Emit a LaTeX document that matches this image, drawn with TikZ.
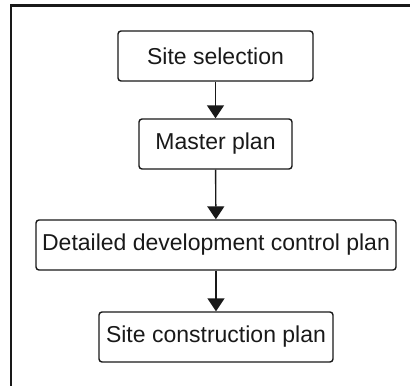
\documentclass[tikz,border=0pt]{standalone}
\usepackage{fontspec}
\setmainfont{Liberation Sans}
\usetikzlibrary{arrows.meta}
\begin{document}
\begin{tikzpicture}[x=1pt,y=-1pt,
  stepbox/.style={draw=black!90,line width=1.4pt,rounded corners=3pt,inner sep=0pt,
    font=\fontsize{23}{27}\selectfont,text=black!90},
  flow/.style={line width=1.4pt,draw=black!90,-{Triangle[width=17pt,length=13pt]}}]
\useasboundingbox (0,0) rectangle (410,386);
\draw[line width=2.4pt,black!90] (410,5.5) -- (11,5.5) -- (11,386);
\node[stepbox,minimum width=195pt,minimum height=50pt] (a) at (215.5,56) {Site selection};
\node[stepbox,minimum width=153pt,minimum height=50pt] (b) at (215.5,144) {Master plan};
\node[stepbox,minimum width=360pt,minimum height=50pt] (c) at (216,245) {Detailed development control plan};
\node[stepbox,minimum width=234pt,minimum height=50pt] (d) at (216,337) {Site construction plan};
\draw[flow] (a) -- (b);
\draw[flow] (b) -- (c);
\draw[flow] (c) -- (d);
\end{tikzpicture}
\end{document}
